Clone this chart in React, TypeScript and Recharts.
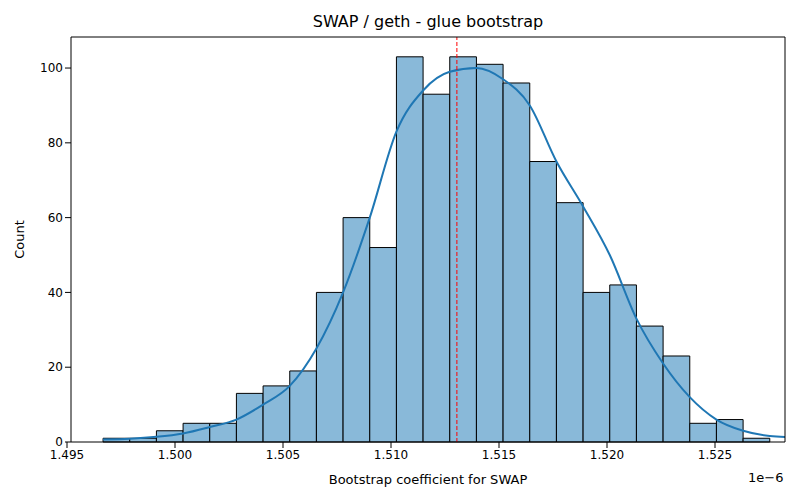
import React from 'react';
import { ComposedChart, Line, XAxis, YAxis, ReferenceArea, ReferenceLine, Label } from 'recharts';

// x values in units of 1e-9 (axis shows them ×1e-6)
const binStart = 1496.67;
const binWidth = 1.2346;
const counts = [1, 1, 3, 5, 5, 13, 15, 19, 40, 60, 52, 103, 93, 103, 101, 96, 75, 64, 40, 42, 31, 23, 5, 6, 1, 3];
// KDE estimate at each bin edge
const kde = [0.7, 0.9, 1.4, 2.3, 4, 6, 10, 15, 25, 40, 60, 83, 94, 99, 100, 97, 90, 75, 63, 50, 33, 21, 12, 6, 3, 1.6, 1.2];
const xTicks = [1495, 1500, 1505, 1510, 1515, 1520, 1525];
const yTicks = [0, 20, 40, 60, 80, 100];
const meanValue = 1513.05;
const xDomain = [1495.185, 1528.24];

const bins = counts.map((c, i) => ({ x0: binStart + i * binWidth, x1: binStart + (i + 1) * binWidth, count: c }));
const kdeData = kde.map((v, i) => ({ x: binStart + i * binWidth, kde: v }));

const font = 'DejaVu Sans, sans-serif';

export default function App() {
	return (
		<div style={{ position: 'absolute', left: 0, top: 0, width: 800, height: 500, background: '#fff', fontFamily: font }}>
			<div style={{ position: 'absolute', top: 12, left: 0, width: 856, textAlign: 'center', fontSize: 16, color: '#000' }}>
				SWAP / geth - glue bootstrap
			</div>
			<div style={{ position: 'absolute', top: 470, left: 748, fontSize: 13, color: '#000' }}>1e−6</div>
			<ComposedChart width={800} height={500} data={kdeData} margin={{ top: 37, right: 15, bottom: 28, left: 21 }}>
				<XAxis
					dataKey='x'
					type='number'
					domain={xDomain}
					ticks={xTicks}
					tickFormatter={(v) => (v / 1000).toFixed(3)}
					allowDataOverflow
					height={30}
					stroke='#000'
					tick={{ fill: '#000', fontSize: 12, fontFamily: font }}
				>
					<Label value='Bootstrap coefficient for SWAP' position='insideBottom' offset={-12} style={{ fill: '#000', fontSize: 13, fontFamily: font }} />
				</XAxis>
				<YAxis
					type='number'
					domain={[0, 108.3]}
					ticks={yTicks}
					allowDataOverflow
					width={50}
					stroke='#000'
					tick={{ fill: '#000', fontSize: 12, fontFamily: font }}
				>
					<Label value='Count' angle={-90} position='insideLeft' offset={-2} style={{ fill: '#000', fontSize: 13, fontFamily: font, textAnchor: 'middle' }} />
				</YAxis>
				{bins.map((b, i) => (
					<ReferenceArea key={i} x1={b.x0} x2={b.x1} y1={0} y2={b.count} fill='#89b9d9' fillOpacity={1} stroke='#000' strokeWidth={1} />
				))}
				<Line dataKey='kde' type='monotone' stroke='#1f77b4' strokeWidth={2} dot={false} isAnimationActive={false} />
				<ReferenceLine x={meanValue} stroke='#ff0000' strokeDasharray='4 2' strokeWidth={1} />
				<ReferenceLine y={108.3} stroke='#000' />
				<ReferenceLine x={xDomain[1]} stroke='#000' />
			</ComposedChart>
		</div>
	);
}
